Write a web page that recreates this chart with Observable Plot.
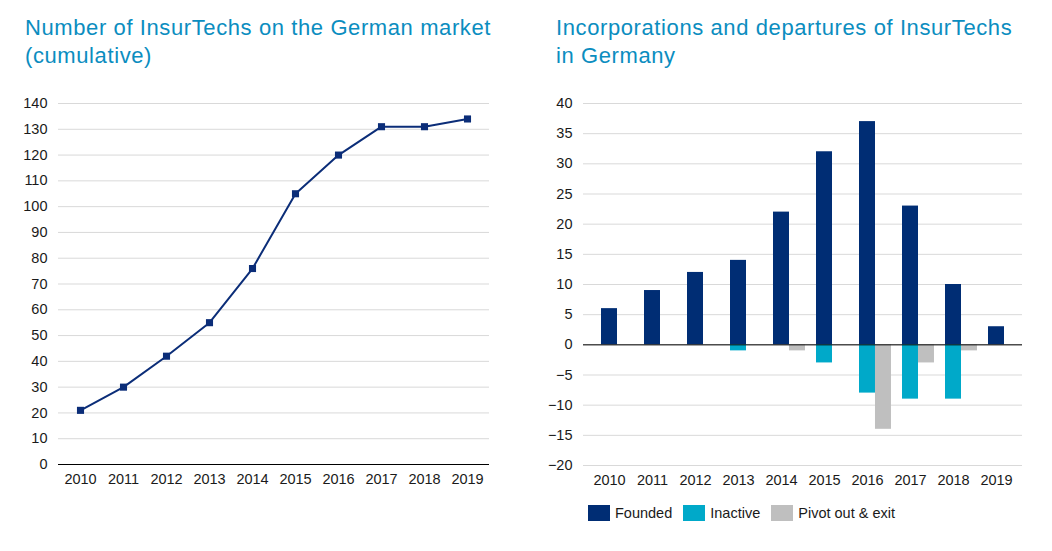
<!DOCTYPE html>
<html>
<head>
<meta charset="utf-8">
<script src="https://cdn.jsdelivr.net/npm/d3@7"></script>
<script src="https://cdn.jsdelivr.net/npm/@observablehq/plot@0.6"></script>
<style>
  body { margin: 0; background: #fff; font-family: "Liberation Sans", Arial, sans-serif; }
  #root { position: relative; width: 1052px; height: 551px; overflow: hidden; }
  .title { position: absolute; top: 14px; font-size: 22px; line-height: 28px; letter-spacing: 0.6px; color: #0b8dbf; white-space: nowrap; }
  .chart { position: absolute; top: 80px; }
  #legend { position: absolute; left: 588px; top: 505px; display: flex; align-items: center; font-size: 14.5px; color: #1a1a1a; }
  #legend .item { display: flex; align-items: center; margin-right: 11px; }
  #legend .sw { width: 22px; height: 16px; margin-right: 5px; }
</style>
</head>
<body>
<div id="root">
  <div class="title" style="left:25px">Number of InsurTechs on the German market<br>(cumulative)</div>
  <div class="title" style="left:556px">Incorporations and departures of InsurTechs<br>in Germany</div>
  <div class="chart" id="left" style="left:0px"></div>
  <div class="chart" id="right" style="left:520px"></div>
  <div id="legend"></div>
</div>
<script>
const years = ["2010","2011","2012","2013","2014","2015","2016","2017","2018","2019"];
const cumulative = [21, 30, 42, 55, 76, 105, 120, 131, 131, 134];
const founded = [6, 9, 12, 14, 22, 32, 37, 23, 10, 3];
const inactive = [0, 0, 0, -1, 0, -3, -8, -9, -9, 0];
const pivotExit = [0, 0, 0, 0, -1, 0, -14, -3, -1, 0];
const seriesNames = ["Founded", "Inactive", "Pivot out & exit"];
const seriesColors = ["#002d74", "#00a9c9", "#bfbfbf"];
const leftTicks = d3.range(0, 141, 10);
const rightTicks = d3.range(-20, 41, 5);

const navy = "#0b2d78";
const font = "Liberation Sans, Arial, sans-serif";

// Left chart
const cumData = years.map((y, i) => ({year: y, value: cumulative[i]}));
const left = Plot.plot({
  width: 520, height: 420,
  marginLeft: 58, marginRight: 31, marginTop: 23, marginBottom: 36,
  style: {fontFamily: font, fontSize: "14.5px", color: "#1a1a1a", background: "transparent"},
  x: {type: "point", domain: years, padding: 0.5, label: null},
  y: {domain: [0, 140], label: null},
  marks: [
    Plot.gridY(leftTicks, {stroke: "#d9d9d9", strokeOpacity: 1}),
    Plot.ruleY([0], {stroke: "#000", strokeWidth: 1}),
    Plot.axisY(leftTicks, {tickSize: 0, tickPadding: 11, label: null}),
    Plot.axisX({tickSize: 0, tickPadding: 9, label: null}),
    Plot.line(cumData, {x: "year", y: "value", stroke: navy, strokeWidth: 2}),
    Plot.dot(cumData, {x: "year", y: "value", symbol: "square", r: 4, fill: navy, stroke: "none"})
  ]
});
document.getElementById("left").append(left);

// Right chart
const rW = 532, rML = 63, rMR = 30;
const padIn = 0.636;
const step = (rW - rML - rMR) / years.length;
const bw = step * (1 - padIn);
const fData = years.map((y, i) => ({year: y, v: founded[i]}));
const iData = years.map((y, i) => ({year: y, v: inactive[i]})).filter(d => d.v !== 0);
const pData = years.map((y, i) => ({year: y, v: pivotExit[i]})).filter(d => d.v !== 0);
const right = Plot.plot({
  width: rW, height: 420,
  marginLeft: rML, marginRight: rMR, marginTop: 23, marginBottom: 35,
  style: {fontFamily: font, fontSize: "14.5px", color: "#1a1a1a", background: "transparent"},
  x: {type: "band", domain: years, paddingInner: padIn, paddingOuter: padIn / 2, label: null},
  y: {domain: [-20, 40], label: null},
  marks: [
    Plot.gridY(rightTicks, {stroke: "#d9d9d9", strokeOpacity: 1}),
    Plot.axisY(rightTicks, {tickSize: 0, tickPadding: 11, label: null}),
    Plot.axisX({tickSize: 0, tickPadding: 9, label: null}),
    Plot.barY(fData, {x: "year", y1: 0, y2: "v", fill: seriesColors[0]}),
    Plot.barY(iData, {x: "year", y1: 0, y2: "v", fill: seriesColors[1]}),
    Plot.barY(pData, {x: "year", y1: 0, y2: "v", fill: seriesColors[2], dx: bw}),
    Plot.ruleY([0], {stroke: "#000", strokeWidth: 1})
  ]
});
document.getElementById("right").append(right);

// Legend
const legend = document.getElementById("legend");
seriesNames.forEach((n, i) => {
  const it = document.createElement("div");
  it.className = "item";
  const sw = document.createElement("div");
  sw.className = "sw";
  sw.style.background = seriesColors[i];
  const t = document.createElement("span");
  t.textContent = n;
  it.append(sw, t);
  legend.append(it);
});
</script>
</body>
</html>
